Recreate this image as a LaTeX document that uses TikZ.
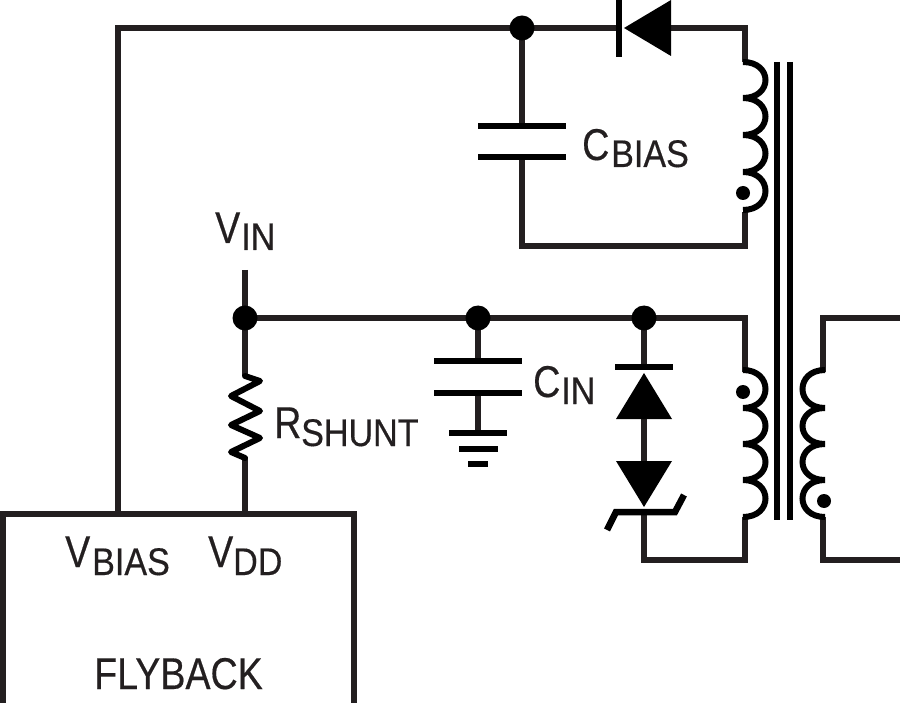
\documentclass[tikz,border=0pt]{standalone}
\usepackage{fontspec}
\usetikzlibrary{backgrounds}
\setmainfont{Liberation Sans}[FakeStretch=0.845,FakeBold=0.4]
\newfontfamily\subfont{Liberation Sans}[FakeStretch=0.885,FakeBold=0.4]
\newcommand{\mainlab}{\fontsize{44.5}{44.5}\selectfont}
\newcommand{\sublab}{\subfont\fontsize{38.5}{38.5}\selectfont}
\definecolor{ink}{HTML}{231F20}
\tikzset{
  wire/.style={line width=6pt,color=ink,line cap=butt,line join=miter},
  plate/.style={line width=6.5pt,color=black},
  coil/.style={line width=6pt,color=black},
  jdot/.style={circle,fill=black,draw=none,minimum size=25pt,inner sep=0pt},
  pdot/.style={circle,fill=black,draw=none,minimum size=14pt,inner sep=0pt},
  lab/.style={inner sep=0pt,anchor=base west,text=ink},
}
\begin{document}
\begin{tikzpicture}[x=1pt,y=-1pt]
\useasboundingbox (0,0) rectangle (900,703);
% named points
\coordinate (tl) at (118,28);
\coordinate (bi) at (118,514);
\coordinate (tr) at (745,28);
\coordinate (t1) at (745,62);
\coordinate (t2) at (745,212);
\coordinate (br) at (745,246);
\coordinate (bc) at (522,246);
\coordinate (cbt) at (522,126);
\coordinate (cbb) at (522,157);
\coordinate (vt) at (245,270);
\coordinate (rt) at (245,376);
\coordinate (rb) at (245,458);
\coordinate (vd) at (245,514);
\coordinate (pr) at (745,318);
\coordinate (p1) at (745,372);
\coordinate (p2) at (745,517);
\coordinate (pb) at (745,560);
\coordinate (zb) at (644,560);
\coordinate (zt) at (644,367);
\coordinate (zm) at (644,512);
\coordinate (cit) at (478,361);
\coordinate (cib) at (478,393);
\coordinate (gt) at (478,433);
\coordinate (st) at (823,318);
\coordinate (sr) at (900,318);
\coordinate (s1) at (823,372);
\coordinate (s2) at (823,517);
\coordinate (sb) at (823,560);
\coordinate (sbr) at (900,560);
\coordinate (dk) at (671,28);
\coordinate (da) at (619,28);
% junctions
\node[jdot] (j1) at (522,28) {};
\node[jdot] (j2) at (245,318) {};
\node[jdot] (j3) at (478,318) {};
\node[jdot] (j4) at (644,318) {};
% wires
\begin{pgfonlayer}{background}
\draw[wire] (bi) -- (tl) -- (da);
\draw[wire] (dk) -- (tr) -- (t1);
\draw[wire] (j1.center) -- (cbt);
\draw[wire] (cbb) -- (bc) -- (br) -- (t2);
\draw[wire] (vt) -- (rt);
\draw[wire] (rb) -- (vd);
\draw[wire] (j2.center) -- (pr) -- (p1);
\draw[wire] (j3.center) -- (cit);
\draw[wire] (cib) -- (gt);
\draw[wire] (j4.center) -- (zt);
\draw[wire] (644,419) -- (644,461);
\draw[wire] (zm) -- (zb) -- (pb) -- (p2);
\draw[wire] (sr) -- (st) -- (s1);
\draw[wire] (s2) -- (sb) -- (sbr);
\end{pgfonlayer}
% flyback box
\draw[wire] (3,703) -- (3,514) -- (353.5,514) -- (353.5,703);
% diode
\draw[plate] (619,0) -- (619,57);
\fill (624,28) -- (671,0) -- (671,56) -- cycle;
% caps
\draw[plate] (478,126) -- (566,126);
\draw[plate] (478,157) -- (566,157);
\draw[plate] (434,361) -- (522,361);
\draw[plate] (434,393) -- (522,393);
% ground
\draw[plate] (449,433) -- (507,433);
\draw[plate] (459,449) -- (498,449);
\draw[plate] (468,464) -- (488,464);
% resistor
\draw[wire,color=black,line join=round,line cap=round]
  (rt) -- (260,381) -- (231,396) -- (260,411) -- (231,425) -- (260,438) -- (231,452) -- (rb);
% zener
\draw[plate] (zt) ++(-29,0) -- ++(58,0);
\fill (644,373) -- (672,419) -- (616,419) -- cycle;
\fill (644,507) -- (672,461) -- (616,461) -- cycle;
\draw[plate] (607,530) -- (616,512) -- (675,512) -- (684,495);
% top winding
\foreach \a/\b in {62/98,98/135,135/172,172/210}
  \draw[coil] (743,\a) .. controls (773,\a) and (773,\b) .. (743,\b);
% primary
\foreach \a/\b in {370/408,408/444,444/480,480/517}
  \draw[coil] (743,\a) .. controls (773,\a) and (773,\b) .. (743,\b);
% secondary
\foreach \a/\b in {370/408,408/444,444/480,480/517}
  \draw[coil] (825,\a) .. controls (795,\a) and (795,\b) .. (825,\b);
% core
\draw[plate] (777,62) -- (777,520);
\draw[plate] (790,62) -- (790,520);
% dots
\node[pdot] (d1) at (743,193) {};
\node[pdot] (d2) at (743,392) {};
\node[pdot] (d3) at (824,501) {};
% labels
\node[lab] (lcb) at (582,160) {\mainlab C};
\node[lab] (lcbs) at (611,167) {\sublab BIAS};
\node[lab] (lvi) at (215,243) {\mainlab V};
\node[lab] (lvis) at (241,250) {\sublab IN};
\node[lab] (lr) at (274,438) {\mainlab R};
\node[lab] (lrs) at (301,446) {\sublab SHUNT};
\node[lab] (lci) at (533,397) {\mainlab C};
\node[lab] (lcis) at (561,404) {\sublab IN};
\node[lab] (lvb) at (65,567) {\mainlab V};
\node[lab] (lvbs) at (92,575) {\sublab BIAS};
\node[lab] (lvd) at (208,567) {\mainlab V};
\node[lab] (lvds) at (233,575) {\sublab DD};
\node[lab] (lfb) at (94,689) {\mainlab FLYBACK};
\end{tikzpicture}
\end{document}
